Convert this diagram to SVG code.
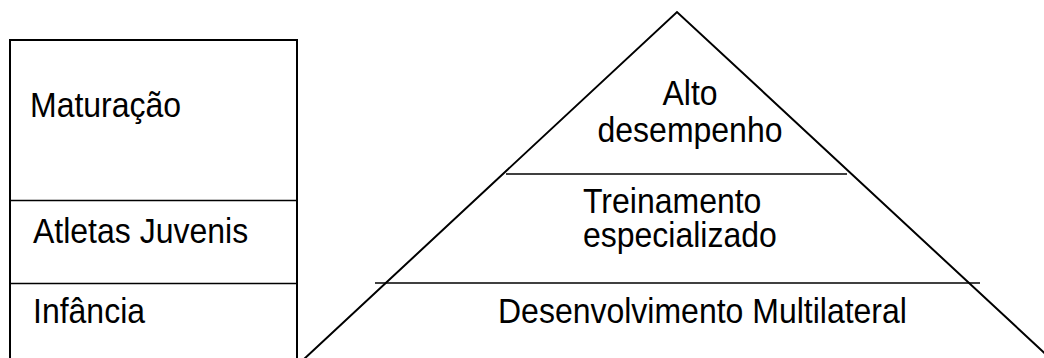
<svg xmlns="http://www.w3.org/2000/svg" width="1044" height="358" viewBox="0 0 1044 358">
<style>
.ln{stroke:#000;stroke-width:2;fill:none}
.thin{stroke:#000;stroke-width:1.6;fill:none}
.t{font-family:"Liberation Sans",Arial,sans-serif;font-size:32px;fill:#000}
.c{text-anchor:middle}
</style>
<rect width="1044" height="358" fill="#fff"/>
<g id="stages">
<rect class="ln" x="10" y="40" width="287" height="340"/>
<line class="thin" x1="10" y1="200.5" x2="297" y2="200.5"/>
<line class="thin" x1="10" y1="283.5" x2="297" y2="283.5"/>
</g>
<g id="maturacao"><text class="t" transform="translate(30,117) scale(1,1.1)">Maturação</text></g>
<g id="atletas-juvenis"><text class="t" transform="translate(33,243) scale(1,1.1)">Atletas Juvenis</text></g>
<g id="infancia"><text class="t" transform="translate(33,323) scale(1,1.1)">Infância</text></g>
<g id="pyramid">
<polyline class="ln" points="303,360 677,12 1052,360"/>
<line class="thin" x1="506" y1="174" x2="847" y2="174"/>
<line class="thin" x1="375" y1="283" x2="980" y2="283"/>
</g>
<g id="alto-desempenho">
<text class="t c" transform="translate(690,105) scale(1,1.1)">Alto</text>
<text class="t c" transform="translate(690,142) scale(1,1.1)">desempenho</text>
</g>
<g id="treinamento-especializado">
<text class="t" transform="translate(583,213) scale(1,1.1)">Treinamento</text>
<text class="t" transform="translate(583,247) scale(1,1.1)">especializado</text>
</g>
<g id="desenvolvimento-multilateral">
<text class="t" transform="translate(498,323) scale(1,1.1)">Desenvolvimento Multilateral</text>
</g>
</svg>
